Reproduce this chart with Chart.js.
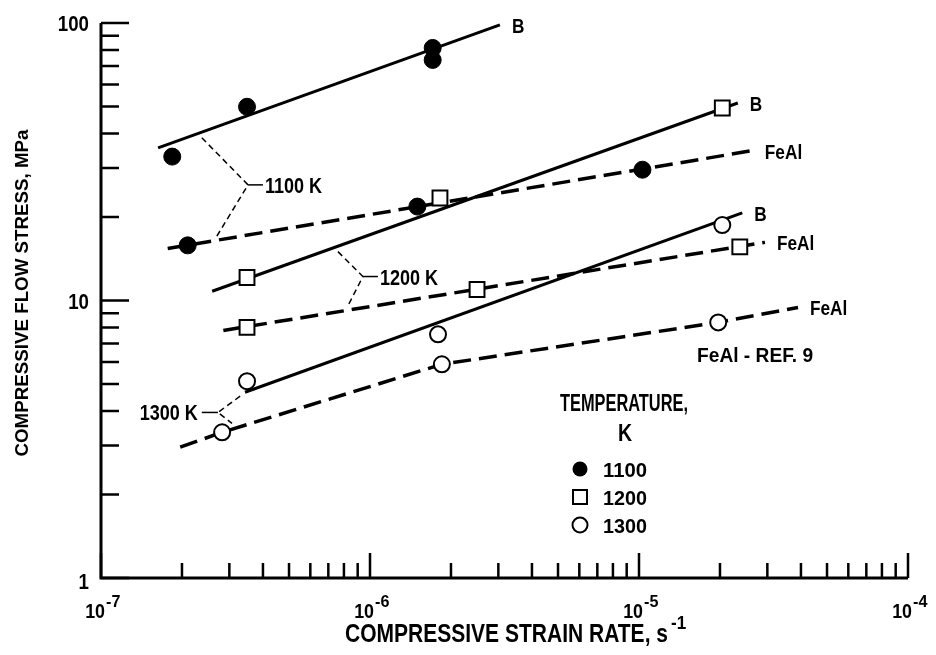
<!DOCTYPE html>
<html>
<head>
<meta charset="utf-8">
<script src="https://cdn.jsdelivr.net/npm/chart.js@4.4.1/dist/chart.umd.min.js"></script>
<style>
  body { margin: 0; background: #fff; }
  #wrap { width: 936px; height: 655px; }
</style>
</head>
<body>
<div id="wrap"><canvas id="chart" width="936" height="655"></canvas></div>
<script>
// values: strain rate (1/s) vs flow stress (MPa)
const pts1100X = [1.84e-7, 3.49e-7, 1.71e-6, 1.71e-6, 2.10e-7, 1.50e-6, 1.03e-5];
const pts1100Y = [33.0, 49.9, 81.3, 73.6, 15.8, 21.8, 29.6];
const pts1200X = [3.49e-7, 1.82e-6, 2.04e-5, 3.49e-7, 2.50e-6, 2.37e-5];
const pts1200Y = [12.1, 23.4, 49.4, 8.0, 10.96, 15.6];
const pts1300X = [3.49e-7, 1.79e-6, 2.04e-5, 2.82e-7, 1.85e-6, 1.97e-5];
const pts1300Y = [5.12, 7.55, 18.7, 3.35, 5.89, 8.34];

// fitted lines
const b1100X = [1.63e-7, 3.04e-6], b1100Y = [35.5, 98.4];
const feal1100X = [1.77e-7, 2.65e-5], feal1100Y = [15.4, 34.7];
const b1200X = [2.59e-7, 2.33e-5], b1200Y = [10.8, 51.5];
const feal1200X = [2.85e-7, 2.94e-5], feal1200Y = [7.8, 16.2];
const b1300X = [3.43e-7, 2.42e-5], b1300Y = [4.67, 20.7];
const feal1300X = [1.97e-7, 2.82e-7, 1.85e-6, 1.97e-5, 3.90e-5];
const feal1300Y = [2.96, 3.35, 5.89, 8.34, 9.44];

// bracket callouts (upper arm, fork, lower arm, stub end)
const bracketLabels = ["1100 K", "1200 K", "1300 K"];
const bracketX = [[2.37e-7, 3.52e-7, 2.65e-7, 4.0e-7], [7.60e-7, 9.41e-7, 8.22e-7, 1.07e-6], [3.29e-7, 2.72e-7, 3.07e-7, 2.37e-7]];
const bracketY = [[38.6, 26.1, 16.6], [15.0, 12.2, 9.44], [4.52, 3.95, 3.61]];

// axis ticks
const xDecades = [1e-7, 1e-6, 1e-5, 1e-4];
const xExponents = ["-7", "-6", "-5", "-4"];
const yDecades = [1, 10, 100];
const yTickLabels = ["1", "10", "100"];
const mantissas = [2, 3, 4, 5, 6, 7, 8, 9];

const legendTemps = ["1100", "1200", "1300"];

const FONT = "'Liberation Sans', Arial, sans-serif";

const mk = (xs, ys) => xs.map((x, i) => ({ x: x, y: ys[i] }));

function text(ctx, s, x, base, size, align, sx) {
  ctx.save();
  ctx.font = "bold " + size + "px " + FONT;
  ctx.textAlign = "left";
  ctx.textBaseline = "alphabetic";
  const w = ctx.measureText(s).width * sx;
  const x0 = align === "center" ? x - w / 2 : align === "right" ? x - w : x;
  ctx.translate(x0, base);
  ctx.scale(sx, 1);
  ctx.fillText(s, 0, 0);
  ctx.restore();
  return w;
}

function textW(ctx, s, x, base, size, align, width) {
  ctx.font = "bold " + size + "px " + FONT;
  const sx = width / ctx.measureText(s).width;
  return text(ctx, s, x, base, size, align, sx);
}

function lineSet(xs, ys, dashed) {
  return {
    data: mk(xs, ys),
    showLine: true,
    borderColor: "#000",
    borderWidth: dashed ? 3.5 : 3,
    borderDash: dashed ? [18, 8] : [],
    pointRadius: 0,
    order: 2,
  };
}

function bracketSet(i) {
  return {
    data: mk(bracketX[i].slice(0, 3), bracketY[i]),
    showLine: true,
    borderColor: "#000",
    borderWidth: 1.5,
    borderDash: [6, 4],
    pointRadius: 0,
    order: 3,
  };
}

const paper = {
  id: "paper",
  beforeDatasetsDraw(chart) {
    const { ctx, chartArea: ca } = chart;
    const xs = chart.scales.x, ys = chart.scales.y;
    ctx.save();
    ctx.strokeStyle = "#000";
    ctx.fillStyle = "#000";
    ctx.lineWidth = 3;

    // axes
    ctx.beginPath();
    ctx.moveTo(ca.left, ca.top);
    ctx.lineTo(ca.left, ca.bottom);
    ctx.lineTo(ca.right, ca.bottom);
    ctx.stroke();

    // ticks, pointing inward
    ctx.lineWidth = 2.5;
    ctx.beginPath();
    xDecades.forEach((d, i) => {
      const px = xs.getPixelForValue(d);
      ctx.moveTo(px, ca.bottom);
      ctx.lineTo(px, ca.bottom - 25);
      if (i < xDecades.length - 1) {
        mantissas.forEach((m) => {
          const p = xs.getPixelForValue(m * d);
          ctx.moveTo(p, ca.bottom);
          ctx.lineTo(p, ca.bottom - 15);
        });
      }
    });
    yDecades.forEach((d, i) => {
      const py = ys.getPixelForValue(d);
      ctx.moveTo(ca.left, py);
      ctx.lineTo(ca.left + 28, py);
      if (i < yDecades.length - 1) {
        mantissas.forEach((m) => {
          const p = ys.getPixelForValue(m * d);
          ctx.moveTo(ca.left, p);
          ctx.lineTo(ca.left + 18, p);
        });
      }
    });
    ctx.stroke();

    // tick labels
    xDecades.forEach((d, i) => {
      const px = xs.getPixelForValue(d) + 4;
      text(ctx, "10", px, ca.bottom + 40, 21, "right", 0.85);
      text(ctx, xExponents[i], px + 1, ca.bottom + 29, 17, "left", 0.95);
    });
    yDecades.forEach((d, i) => {
      const py = ys.getPixelForValue(d);
      text(ctx, yTickLabels[i], ca.left - 12, py + 8 + (i === 0 ? 3 : 0), 22, "right", 0.85);
    });

    // axis titles
    ctx.save();
    ctx.translate(21, 293);
    ctx.rotate(-Math.PI / 2);
    textW(ctx, "COMPRESSIVE FLOW STRESS, MPa", 0, 7, 19, "center", 327);
    ctx.restore();
    textW(ctx, "COMPRESSIVE STRAIN RATE, s", 345, 642, 25, "left", 323);
    text(ctx, "-1", 671, 629, 18, "left", 0.95);

    // bracket stubs and labels
    ctx.lineWidth = 1.5;
    bracketLabels.forEach((lab, i) => {
      const fx = xs.getPixelForValue(bracketX[i][1]);
      const fy = ys.getPixelForValue(bracketY[i][1]);
      const ex = xs.getPixelForValue(bracketX[i][3]);
      ctx.beginPath();
      ctx.moveTo(fx, fy);
      ctx.lineTo(ex, fy);
      ctx.stroke();
      if (ex > fx) text(ctx, lab, ex + 2, fy + 8, 22, "left", 0.82);
      else text(ctx, lab, ex - 4, fy + 8, 22, "right", 0.82);
    });

    // line end labels
    const ends = [
      [b1100X, b1100Y, "B"], [feal1100X, feal1100Y, "FeAl"],
      [b1200X, b1200Y, "B"], [feal1200X, feal1200Y, "FeAl"],
      [b1300X, b1300Y, "B"], [feal1300X, feal1300Y, "FeAl"],
    ];
    ends.forEach(([lx, ly, lab]) => {
      const px = xs.getPixelForValue(lx[lx.length - 1]);
      const py = ys.getPixelForValue(ly[ly.length - 1]);
      text(ctx, lab, px + 12, py + 8, 21, "left", 0.82);
    });
    textW(ctx, "FeAl - REF. 9", xs.getPixelForValue(2.7e-5), ys.getPixelForValue(6.4) + 8, 21, "center", 116);

    ctx.restore();
  },
  afterDatasetsDraw(chart) {
    const { ctx } = chart;
    ctx.save();
    ctx.fillStyle = "#000";
    ctx.strokeStyle = "#000";
    textW(ctx, "TEMPERATURE,", 624, 411, 24, "center", 128);
    text(ctx, "K", 625, 441, 23, "center", 0.85);
    const rows = [469, 497, 525];
    ctx.lineWidth = 2;
    // filled circle
    ctx.beginPath();
    ctx.arc(580, rows[0], 7.5, 0, Math.PI * 2);
    ctx.fill();
    // square
    ctx.fillStyle = "#fff";
    ctx.fillRect(573, rows[1] - 7, 14, 14);
    ctx.strokeRect(573, rows[1] - 7, 14, 14);
    // open circle
    ctx.beginPath();
    ctx.arc(580, rows[2], 7.5, 0, Math.PI * 2);
    ctx.fill();
    ctx.stroke();
    ctx.fillStyle = "#000";
    legendTemps.forEach((t, i) => {
      textW(ctx, t, 603, rows[i] + 8, 21, "left", 44);
    });
    ctx.restore();
  },
};

new Chart(document.getElementById("chart"), {
  type: "scatter",
  data: {
    datasets: [
      {
        label: "1100 K",
        data: mk(pts1100X, pts1100Y),
        pointStyle: "circle",
        pointRadius: 8.5,
        backgroundColor: "#000",
        borderColor: "#000",
        borderWidth: 1,
        order: 0,
      },
      {
        label: "1200 K",
        data: mk(pts1200X, pts1200Y),
        pointStyle: "rect",
        pointRadius: 10.5,
        backgroundColor: "#fff",
        borderColor: "#000",
        borderWidth: 2,
        order: 0,
      },
      {
        label: "1300 K",
        data: mk(pts1300X, pts1300Y),
        pointStyle: "circle",
        pointRadius: 8,
        backgroundColor: "#fff",
        borderColor: "#000",
        borderWidth: 2,
        order: 0,
      },
      lineSet(b1100X, b1100Y, false),
      lineSet(feal1100X, feal1100Y, true),
      lineSet(b1200X, b1200Y, false),
      lineSet(feal1200X, feal1200Y, true),
      lineSet(b1300X, b1300Y, false),
      lineSet(feal1300X, feal1300Y, true),
      bracketSet(0),
      bracketSet(1),
      bracketSet(2),
    ],
  },
  options: {
    responsive: false,
    animation: false,
    layout: { padding: { left: 101, right: 28, top: 23, bottom: 77 } },
    plugins: { legend: { display: false }, tooltip: { enabled: false } },
    scales: {
      x: { type: "logarithmic", min: 1e-7, max: 1e-4, display: false },
      y: { type: "logarithmic", min: 1, max: 100, display: false },
    },
  },
  plugins: [paper],
});
</script>
</body>
</html>
